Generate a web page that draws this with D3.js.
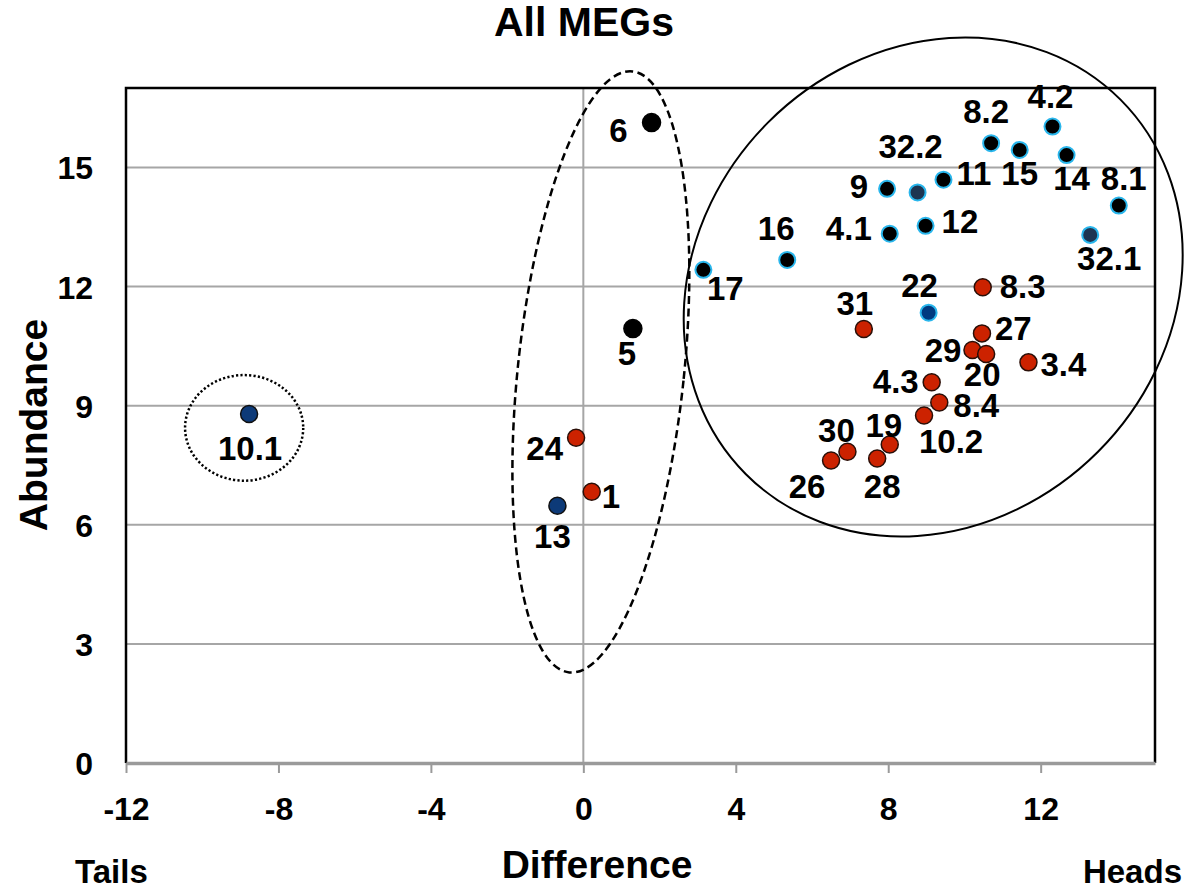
<!DOCTYPE html>
<html>
<head>
<meta charset="utf-8">
<script src="https://cdn.jsdelivr.net/npm/d3@7"></script>
<style>
  body { margin: 0; background: #fff; }
  svg { display: block; font-family: "Liberation Sans", Arial, sans-serif; font-weight: bold; }
</style>
</head>
<body>
<svg></svg>
<script>
// ---- data ----
const labels = ['6', '4.2', '8.2', '15', '14', '11', '9', '32.2', '8.1', '12', '4.1', '32.1', '16', '17',
  '8.3', '22', '5', '31', '27', '29', '20', '3.4', '4.3', '8.4', '10.1', '10.2', '24', '19', '30', '28', '26', '1', '13'];
const difference = [1.79, 12.31, 10.70, 11.45, 12.68, 9.45, 7.97, 8.77, 14.05, 8.98, 8.04, 13.30, 5.35, 3.15,
  10.48, 9.06, 1.30, 7.36, 10.46, 10.21, 10.57, 11.68, 9.14, 9.34, -8.77, 8.94, -0.19, 8.04, 6.93, 7.71, 6.50, 0.22, -0.68];
const abundance = [16.13, 16.03, 15.61, 15.44, 15.31, 14.69, 14.46, 14.37, 14.04, 13.53, 13.33, 13.30, 12.67, 12.42,
  11.98, 11.34, 10.94, 10.93, 10.82, 10.40, 10.30, 10.09, 9.59, 9.08, 8.79, 8.75, 8.19, 8.02, 7.84, 7.67, 7.62, 6.83, 6.48];
const kind = ['solid', 'ring', 'ring', 'ring', 'ring', 'ring', 'ring', 'slate', 'ring', 'ring', 'ring', 'slate', 'ring', 'ring',
  'red', 'blueRing', 'solid', 'red', 'red', 'red', 'red', 'red', 'red', 'red', 'navy', 'red', 'red', 'red', 'red', 'red', 'red', 'red', 'navy'];

const xTicks = [-12, -8, -4, 0, 4, 8, 12];
const yTicks = [0, 3, 6, 9, 12, 15];

// label placement: [anchor, dx, dy] in px relative to the point
const labelPlace = {
  '6': ['end', -24, 19], '4.2': ['middle', -2, -19], '8.2': ['middle', -5, -20], '15': ['middle', 0, 35],
  '14': ['middle', 5, 35], '11': ['start', 13, 5], '9': ['end', -19, 9], '32.2': ['middle', -7, -34],
  '8.1': ['middle', 5, -16], '12': ['start', 16, 7], '4.1': ['end', -18, 6], '32.1': ['middle', 19, 35],
  '16': ['middle', -11, -20], '17': ['middle', 22, 30], '8.3': ['start', 17, 11], '22': ['middle', -9, -16],
  '5': ['middle', -6, 36], '31': ['middle', -9, -14], '27': ['start', 13, 7], '29': ['end', -11, 12],
  '20': ['middle', -4, 32], '3.4': ['start', 12, 14], '4.3': ['end', -13, 11], '8.4': ['start', 14, 15],
  '10.1': ['middle', 1, 46], '10.2': ['middle', 27, 37], '24': ['end', -13, 22], '19': ['middle', -6, -8],
  '30': ['middle', -11, -10], '28': ['middle', 5, 40], '26': ['middle', -24, 38], '1': ['start', 10, 16],
  '13': ['middle', -5, 42]
};

// marker styles
const markerStyle = {
  solid:    {fill: '#000000', stroke: '#000000', sw: 1.5, r: 9},
  ring:     {fill: '#000000', stroke: '#29b6ec', sw: 2, r: 8},
  slate:    {fill: '#1d3552', stroke: '#29b6ec', sw: 2, r: 8},
  blueRing: {fill: '#003a80', stroke: '#29b6ec', sw: 2, r: 8},
  red:      {fill: '#cc2200', stroke: '#2a0f08', sw: 1.5, r: 8.5},
  navy:     {fill: '#0d3a78', stroke: '#101010', sw: 1.5, r: 8.5}
};

const size = {w: 1186, h: 890};
const margin = {t: 88, r: 31, b: 127, l: 126};
const font = '"Liberation Sans", Arial, sans-serif';

const svg = d3.select('svg')
    .attr('width', size.w)
    .attr('height', size.h);

const x = d3.scaleLinear().domain([-12, 15]).range([margin.l, size.w - margin.r]);
const y = d3.scaleLinear().domain([0, 17]).range([size.h - margin.b, margin.t]);

// gridlines
svg.append('g').selectAll('line')
    .data(yTicks.filter(d => d > 0))
    .join('line')
    .attr('x1', x(-12)).attr('x2', x(15))
    .attr('y1', d => y(d)).attr('y2', d => y(d))
    .attr('stroke', '#a6a6a6').attr('stroke-width', 2);

// vertical axis line at 0
svg.append('line')
    .attr('x1', x(0)).attr('x2', x(0))
    .attr('y1', y(0)).attr('y2', y(17))
    .attr('stroke', '#a6a6a6').attr('stroke-width', 2);

// plot frame (top, right, left)
svg.append('path')
    .attr('d', `M${x(-12)},${y(0)} V${y(17)} H${x(15)} V${y(0)}`)
    .attr('fill', 'none').attr('stroke', '#000').attr('stroke-width', 2.5);

// x axis
const xAxisG = svg.append('g')
    .attr('transform', `translate(0,${y(0)})`)
    .call(d3.axisBottom(x).tickValues(xTicks).tickSize(10).tickSizeOuter(0).tickFormat(d => String(d)));
xAxisG.select('.domain').attr('stroke', '#9a9a9a').attr('stroke-width', 3.5);
xAxisG.selectAll('.tick line').attr('stroke', '#9a9a9a').attr('stroke-width', 2);
xAxisG.selectAll('.tick text')
    .attr('y', 57).attr('dy', null)
    .attr('fill', '#000')
    .style('font-size', '32px').style('font-family', font).style('font-weight', 'bold');

// y axis
const yAxisG = svg.append('g')
    .attr('transform', `translate(${x(-12)},0)`)
    .call(d3.axisLeft(y).tickValues(yTicks).tickSize(0).tickPadding(33));
yAxisG.select('.domain').remove();
yAxisG.selectAll('.tick text')
    .attr('dy', '0.36em')
    .attr('fill', '#000')
    .style('font-size', '32px').style('font-family', font).style('font-weight', 'bold');

// annotation ellipses (data units for centre/radii)
const outlines = [
  {cx: 9.18, cy: 11.99, rx: 6.95, ry: 5.87, rot: -45, dash: null},
  {cx: 0.46, cy: 9.85, rx: 2.18, ry: 7.61, rot: 6, dash: '8,4.5'},
  {cx: -8.9, cy: 8.44, rx: 1.55, ry: 1.33, rot: 0, dash: '2.2,2.2'}
];
const pxX = d3.scaleLinear().domain([0, 27]).range([0, x(15) - x(-12)]);
const pxY = d3.scaleLinear().domain([0, 17]).range([0, y(0) - y(17)]);

svg.append('g').selectAll('ellipse')
    .data(outlines)
    .join('ellipse')
    .attr('transform', d => `translate(${x(d.cx)},${y(d.cy)}) rotate(${d.rot})`)
    .attr('rx', d => pxX(d.rx))
    .attr('ry', d => pxY(d.ry))
    .attr('fill', 'none')
    .attr('stroke', '#000')
    .attr('stroke-width', (d, i) => i === 0 ? 2 : 2.5)
    .attr('stroke-dasharray', d => d.dash);

// points
const points = labels.map((l, i) => ({label: l, diff: difference[i], ab: abundance[i], kind: kind[i]}));

svg.append('g').selectAll('circle')
    .data(points)
    .join('circle')
    .attr('cx', d => x(d.diff))
    .attr('cy', d => y(d.ab))
    .attr('r', d => markerStyle[d.kind].r)
    .attr('fill', d => markerStyle[d.kind].fill)
    .attr('stroke', d => markerStyle[d.kind].stroke)
    .attr('stroke-width', d => markerStyle[d.kind].sw);

svg.append('g').selectAll('text')
    .data(points)
    .join('text')
    .attr('x', d => x(d.diff) + labelPlace[d.label][1])
    .attr('y', d => y(d.ab) + labelPlace[d.label][2])
    .attr('text-anchor', d => labelPlace[d.label][0])
    .style('font-size', '33px')
    .text(d => d.label);

// titles
svg.append('text')
    .attr('x', 584).attr('y', 36)
    .attr('text-anchor', 'middle')
    .style('font-size', '41px')
    .text('All MEGs');

svg.append('text')
    .attr('transform', 'translate(47,425) rotate(-90)')
    .attr('text-anchor', 'middle')
    .style('font-size', '39px')
    .text('Abundance');

svg.append('text')
    .attr('x', 597).attr('y', 878)
    .attr('text-anchor', 'middle')
    .style('font-size', '39px')
    .text('Difference');

svg.append('text')
    .attr('x', 75).attr('y', 883)
    .style('font-size', '33px')
    .text('Tails');

svg.append('text')
    .attr('x', 1182).attr('y', 883)
    .attr('text-anchor', 'end')
    .style('font-size', '33px')
    .text('Heads');
</script>
</body>
</html>
